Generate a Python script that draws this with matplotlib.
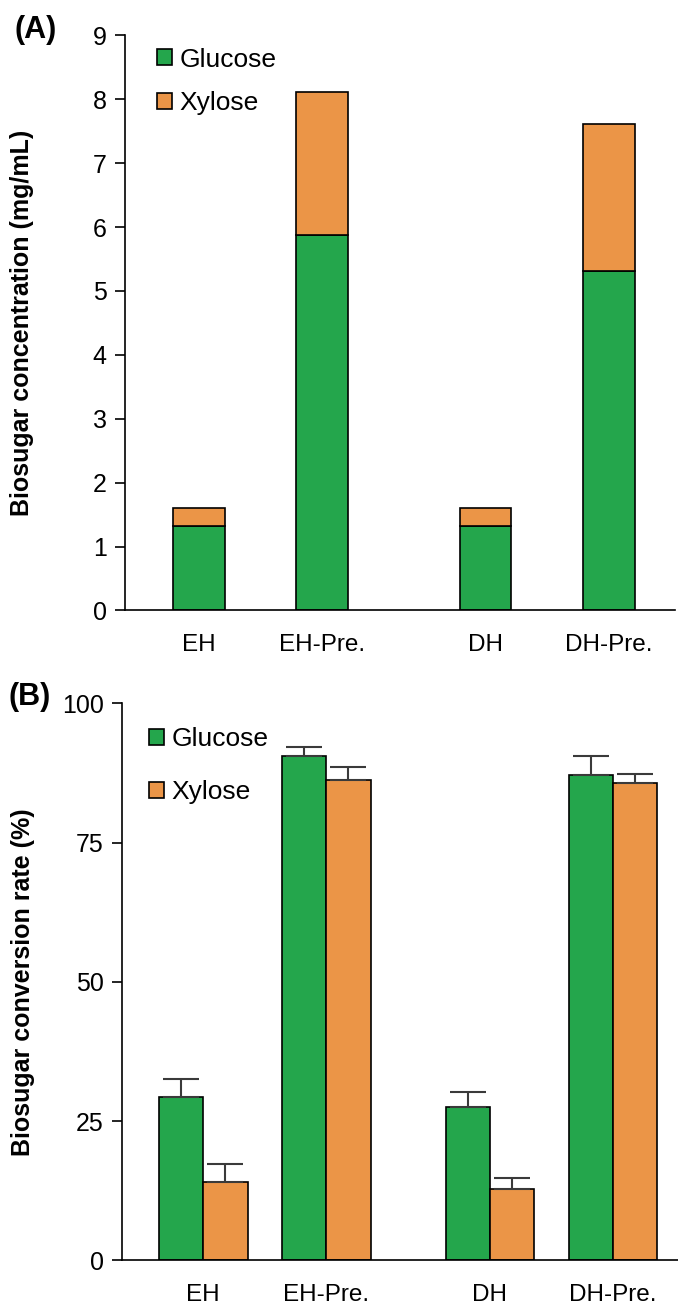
import numpy as np
import matplotlib
matplotlib.use("Agg")
import matplotlib.pyplot as plt

plt.rcParams['font.family'] = ['Liberation Sans', 'DejaVu Sans']

# data
categories = ['EH', 'EH-Pre.', 'DH', 'DH-Pre.']
conc_glucose = [1.32, 5.87, 1.32, 5.31]
conc_xylose = [0.28, 2.25, 0.28, 2.31]

rate_glucose = [29.3, 90.5, 27.5, 87.2]
rate_glucose_err = [3.3, 1.6, 2.7, 3.3]
rate_xylose = [14.0, 86.3, 12.8, 85.8]
rate_xylose_err = [3.3, 2.3, 1.9, 1.5]

green = '#24a64c'
orange = '#eb9547'
errc = '#3a3a3a'

pos = np.array([0, 1, 2.33, 3.33])

fig = plt.figure(figsize=(6.78, 13.10), dpi=100)

# ---- panel A ----
axA = fig.add_axes([0.184, 0.534, 0.812, 0.439])
w = 0.42
axA.bar(pos, conc_glucose, w, color=green, edgecolor='black', linewidth=1.2, label='Glucose')
axA.bar(pos, conc_xylose, w, bottom=conc_glucose, color=orange, edgecolor='black',
        linewidth=1.2, label='Xylose')
axA.set_ylim(0, 9)
axA.set_xlim(-0.6, 3.87)
axA.set_yticks(range(0, 10))
axA.set_ylabel('Biosugar concentration (mg/mL)', fontsize=18, fontweight='bold')
axA.yaxis.set_label_coords(-0.165, 0.5)
fig.text(15 / 678, 1 - 30 / 1310, '(A)', fontsize=22, fontweight='bold', ha='left', va='center')

# ---- panel B ----
axB = fig.add_axes([0.180, 0.038, 0.820, 0.425])
bw = 0.36
axB.bar(pos - bw / 2, rate_glucose, bw, color=green, edgecolor='black', linewidth=1.2,
        label='Glucose')
axB.bar(pos + bw / 2, rate_xylose, bw, color=orange, edgecolor='black', linewidth=1.2,
        label='Xylose')
axB.errorbar(pos - bw / 2, rate_glucose, yerr=[np.zeros(4), rate_glucose_err], fmt='none',
             ecolor=errc, elinewidth=1.5, capsize=13, capthick=1.5)
axB.errorbar(pos + bw / 2, rate_xylose, yerr=[np.zeros(4), rate_xylose_err], fmt='none',
             ecolor=errc, elinewidth=1.5, capsize=13, capthick=1.5)
axB.set_ylim(0, 100)
axB.set_xlim(-0.66, 3.86)
axB.set_yticks([0, 25, 50, 75, 100])
axB.set_ylabel('Biosugar conversion rate (%)', fontsize=18, fontweight='bold')
axB.yaxis.set_label_coords(-0.157, 0.5)
fig.text(8 / 678, 1 - 697 / 1310, '(B)', fontsize=22, fontweight='bold', ha='left', va='center')

for ax, sp, anchor in ((axA, 0.75, (0.04, 0.997)), (axB, 1.1, (0.03, 0.976))):
    ax.spines['top'].set_visible(False)
    ax.spines['right'].set_visible(False)
    ax.spines['left'].set_linewidth(1.2)
    ax.spines['bottom'].set_linewidth(1.2)
    ax.set_xticks(pos)
    ax.set_xticklabels(categories)
    ax.tick_params(axis='x', length=0, pad=17, labelsize=17.5)
    ax.tick_params(axis='y', direction='out', length=7, width=1.2, labelsize=18, pad=6)
    ax.legend(loc='upper left', bbox_to_anchor=anchor, frameon=False, fontsize=19,
              handlelength=0.55, handleheight=0.55, handletextpad=0.3, labelspacing=sp,
              borderaxespad=0)

fig.savefig('out.png', dpi=100)
